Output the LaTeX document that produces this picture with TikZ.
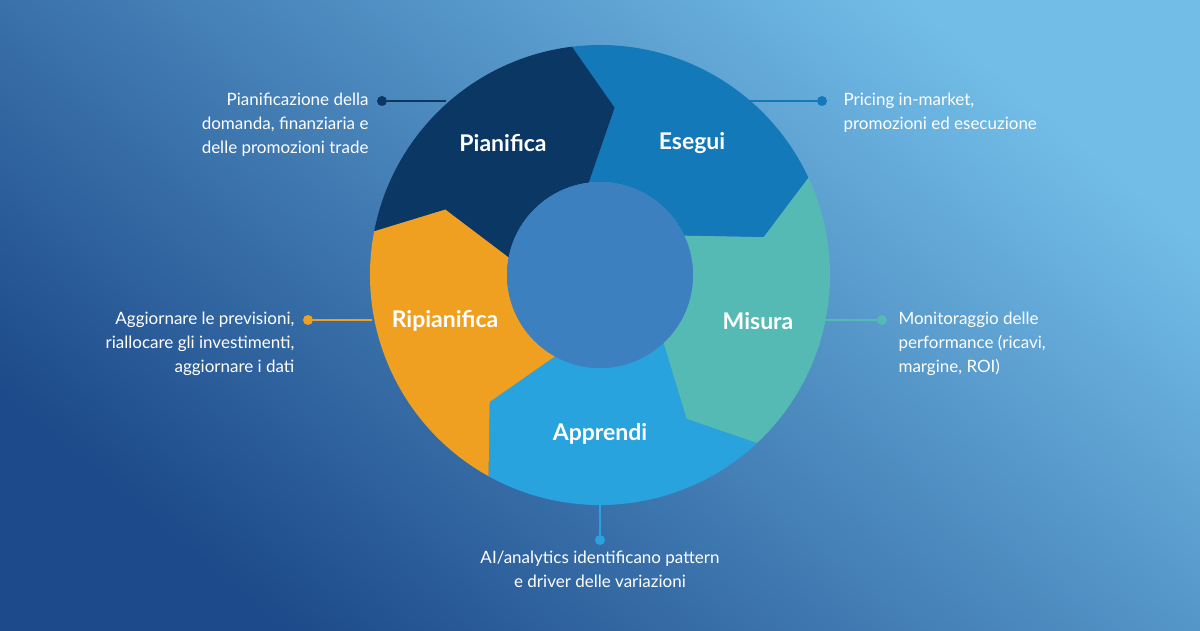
\documentclass[tikz,border=0pt]{standalone}
\usepackage{fontspec}
\setmainfont{Lato}
\definecolor{bgdark}{HTML}{1D4A8A}
\definecolor{bglight}{HTML}{72BDE8}
\definecolor{hub}{HTML}{3D80C0}
\definecolor{cPian}{HTML}{0B3764}
\definecolor{cEseg}{HTML}{1479B8}
\definecolor{cMis}{HTML}{55B9B4}
\definecolor{cAppr}{HTML}{29A3DE}
\definecolor{cRip}{HTML}{F0A021}
\tikzset{
  phase/.style={text=white,font=\fontsize{23}{26}\selectfont\bfseries},
  note/.style={text=white,font=\fontsize{17}{24}\selectfont},
  pin/.style={circle,fill=#1,inner sep=0pt,minimum size=10pt},
  lead/.style={draw=#1,line width=1.2pt}
}
\begin{document}
\begin{tikzpicture}[x=1pt,y=1pt]
% background
\shade[top color=bglight,bottom color=bgdark,shading angle=-40] (0,0) rectangle (1200,630);
\useasboundingbox (0,0) rectangle (1200,630);
\coordinate (c) at (600,355);
% ring segments
\foreach \a/\col in {97/cEseg,25/cMis,-47/cAppr,-119/cRip,-191/cPian}{
  \pgfmathsetmacro{\b}{\a-72}
  \fill[\col,shift={(c)}] (\a:230) arc[start angle=\a,end angle=\b,radius=230]
    -- (\b-12:168) -- (\b:93) arc[start angle=\b,end angle=\a,radius=93]
    -- (\a-12:168) -- cycle;
}
\fill[hub] (c) circle (93);
% phase names
\node[phase] (pian) at (503,487) {Pianifica};
\node[phase] (eseg) at (692,487) {Esegui};
\node[phase] (mis) at (758,309) {Misura};
\node[phase] (appr) at (600,196) {Apprendi};
\node[phase] (rip) at (445,309) {Ripianifica};
% notes
\node[pin=cPian] (p1) at (382,529) {};
\coordinate (r1) at (446,529);
\draw[lead=cPian] (p1) -- (r1);
\node[note,anchor=east,align=right] (n1) at (372,505) {Pianificazione della\\domanda, finanziaria e\\delle promozioni trade};
\node[pin=cEseg] (p2) at (822,529) {};
\coordinate (r2) at (750,529);
\draw[lead=cEseg] (r2) -- (p2);
\node[note,anchor=west,align=left] (n2) at (840,517) {Pricing in-market,\\promozioni ed esecuzione};
\node[pin=cMis] (p3) at (882,310) {};
\coordinate (r3) at (824,310);
\draw[lead=cMis] (r3) -- (p3);
\node[note,anchor=west,align=left] (n3) at (895,286) {Monitoraggio delle\\performance (ricavi,\\margine, ROI)};
\node[pin=cRip] (p4) at (308,310) {};
\coordinate (r4) at (372,310);
\draw[lead=cRip] (p4) -- (r4);
\node[note,anchor=east,align=right] (n4) at (298,286) {Aggiornare le previsioni,\\riallocare gli investimenti,\\aggiornare i dati};
\node[pin=cAppr] (p5) at (600,90) {};
\coordinate (r5) at (600,126);
\draw[lead=cAppr] (r5) -- (p5);
\node[note,align=center] (n5) at (600,61) {AI/analytics identificano pattern\\e driver delle variazioni};
\end{tikzpicture}
\end{document}
